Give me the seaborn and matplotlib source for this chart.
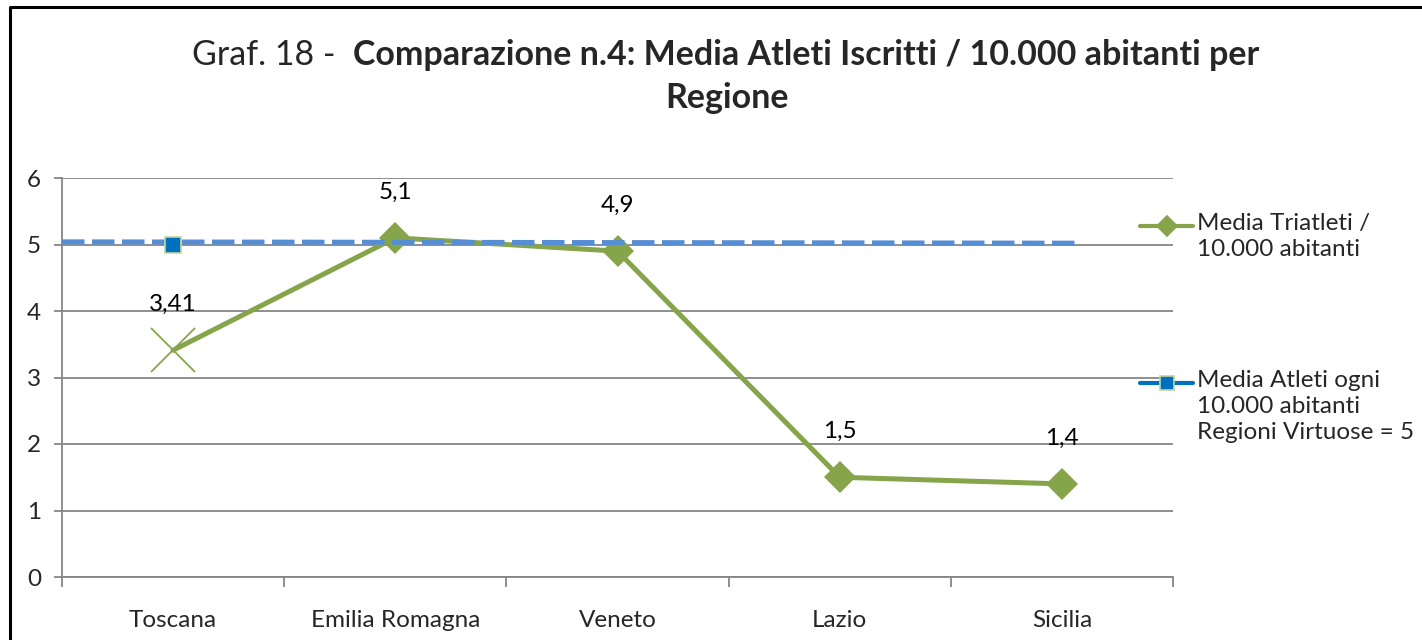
import matplotlib
matplotlib.use("Agg")
import matplotlib.pyplot as plt
from matplotlib.lines import Line2D
import numpy as np
import seaborn as sns

# ---- data ----
regioni = ["Toscana", "Emilia Romagna", "Veneto", "Lazio", "Sicilia"]
media_triatleti = [3.41, 5.1, 4.9, 1.5, 1.4]
etichette = ["3,41", "5,1", "4,9", "1,5", "1,4"]
rif_x = [-0.5, 4.07]          # dashed reference line span (category units)
rif_y = [5.04, 5.02]
rif_marker_y = 5.0
y_ticks = [0, 1, 2, 3, 4, 5, 6]

GREEN = "#86A44A"
BLUE_DASH = "#558ED5"
BLUE_MK = "#0070C0"
GRID = "#868686"
FS = 17.5

sns.set_theme(style="white")
plt.rcParams["font.family"] = ["Lato", "DejaVu Sans"]

fig = plt.figure(figsize=(14.22, 6.4), dpi=100)
ax = fig.add_axes([62 / 1422, 63 / 640, (1173 - 62) / 1422, (577 - 178) / 640])

pos = np.arange(len(regioni))

# green series (diamonds on all but the first point)
sns.lineplot(x=pos, y=media_triatleti, ax=ax, color=GREEN, lw=3.6,
             marker="D", markersize=16, markeredgewidth=0,
             markevery=[1, 2, 3, 4], zorder=3)
ax.plot(pos[:1], media_triatleti[:1], linestyle="none", marker="x",
        markersize=31, markeredgewidth=1.3, color=GREEN, zorder=3)

# dashed reference line
ax.plot(rif_x, rif_y, color=BLUE_DASH, lw=3.6, dashes=(4.5, 1.5), zorder=4,
        solid_capstyle="butt", dash_capstyle="butt")
ax.plot([pos[0]], [rif_marker_y], linestyle="none", marker="s", markersize=11,
        markerfacecolor=BLUE_MK, markeredgecolor="#C3D69B", markeredgewidth=1.2,
        zorder=5)

# data labels
for x, y, s in zip(pos, media_triatleti, etichette):
    ax.annotate(s, (x, y), xytext=(0, 33), textcoords="offset points",
                ha="center", va="center", fontsize=FS, color="black")

# axes styling
ax.set_xlim(-0.5, len(regioni) - 0.5)
ax.set_ylim(0, 6)
ax.set_yticks(y_ticks)
ax.set_yticklabels([str(v) for v in y_ticks], fontsize=FS)
ax.yaxis.grid(True, color=GRID, lw=1.3)
ax.set_axisbelow(True)
ax.set_xticks(pos)
ax.set_xticklabels(regioni, fontsize=FS)
ax.tick_params(axis="x", length=0, pad=24)
ax.tick_params(axis="y", length=6, width=1.3, color=GRID, left=True, pad=9)
# category-boundary ticks on the x axis
ax.set_xticks(np.arange(-0.5, len(regioni)), minor=True)
ax.tick_params(axis="x", which="minor", length=7, width=1.3, color=GRID, bottom=True)
for side in ["top", "right"]:
    ax.spines[side].set_visible(False)
for side in ["left", "bottom"]:
    ax.spines[side].set_color(GRID)
    ax.spines[side].set_linewidth(1.3)
ax.set_xlabel("")
ax.set_ylabel("")

# title: normal prefix + bold remainder, centred together
fig.canvas.draw()
r = fig.canvas.get_renderer()
t1 = fig.text(0, 1 - 55 / 640, "Graf. 18 -  ", fontsize=24.5, va="center", ha="left")
t2 = fig.text(0, 1 - 55 / 640, "Comparazione n.4: Media Atleti Iscritti / 10.000 abitanti per",
              fontsize=24.5, fontweight="bold", va="center", ha="left")
w1 = t1.get_window_extent(r).width
w2 = t2.get_window_extent(r).width
x0 = 726 - (w1 + w2) / 2
t1.set_x(x0 / 1422)
t2.set_x((x0 + w1) / 1422)
fig.text(727 / 1422, 1 - 98 / 640, "Regione", fontsize=24.5, fontweight="bold",
         ha="center", va="center")

# legend drawn by hand (handle aligned with first text line)
leg_items = [
    (226, GREEN, "D", GREEN, GREEN, "Media Triatleti /\n10.000 abitanti"),
    (383, BLUE_MK, "s", BLUE_MK, "#C3D69B", "Media Atleti ogni\n10.000 abitanti\nRegioni Virtuose = 5"),
]
for yy, lc, mk, mfc, mec, lab in leg_items:
    yf = 1 - yy / 640
    fig.add_artist(Line2D([1140 / 1422, 1193 / 1422], [yf, yf], color=lc, lw=3,
                          solid_capstyle="round", transform=fig.transFigure))
    fig.add_artist(Line2D([1166.5 / 1422], [yf], marker=mk, markersize=10,
                          markerfacecolor=mfc, markeredgecolor=mec, markeredgewidth=1.2,
                          transform=fig.transFigure))
    fig.text(1197 / 1422, 1 - (yy - 13) / 640, lab, fontsize=FS, va="top", ha="left",
             linespacing=1.3)

# outer chart border
fig.add_artist(Line2D([10 / 1422, 10 / 1422, 1.0], [0.0, 1 - 7 / 640, 1 - 7 / 640],
                      color="black", lw=2.2, transform=fig.transFigure))

fig.savefig("out.png", dpi=100, facecolor="white")
